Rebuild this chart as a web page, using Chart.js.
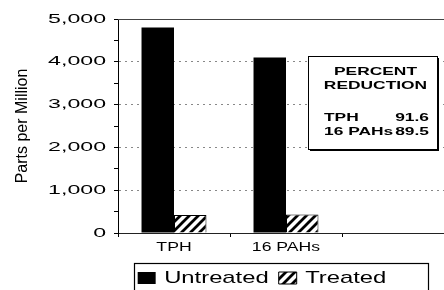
<!DOCTYPE html>
<html>
<head>
<meta charset="utf-8">
<script src="https://cdn.jsdelivr.net/npm/chart.js@4/dist/chart.umd.min.js"></script>
<style>
  html, body { margin: 0; padding: 0; background: #fff; overflow: hidden; }
  #wrap { width: 454px; height: 290px; }
</style>
</head>
<body>
<div id="wrap"><canvas id="c" width="454" height="290"></canvas></div>
<script>
// ---- data ----
const categories = ['TPH', '16 PAHs', ''];
const seriesNames = ['Untreated', 'Treated'];
const untreated = [4800, 4100, null];
const treated = [420, 430, null];
const yTickValues = [0, 1000, 2000, 3000, 4000, 5000];
const boxTitle = ['PERCENT', 'REDUCTION'];
const reductionLabels = ['TPH', '16 PAHs'];
const reductionValues = ['91.6', '89.5'];

// ---- canvas & horizontally extended type (the original lettering is very wide) ----
const canvas = document.getElementById('c');
const ctx = canvas.getContext('2d');
const stretchBySize = { '13': 1.78, '12': 1.47, '17': 1.4, '11': 1.58 };
function stretchFor(font) {
  const m = /(\d+(?:\.\d+)?)px/.exec(font || '');
  return m && stretchBySize[m[1]] ? stretchBySize[m[1]] : 1;
}
const origFill = CanvasRenderingContext2D.prototype.fillText;
const origMeasure = CanvasRenderingContext2D.prototype.measureText;
ctx.fillText = function (t, x, y, mw) {
  const sx = stretchFor(this.font);
  if (sx === 1) {
    return (mw === undefined) ? origFill.call(this, t, x, y) : origFill.call(this, t, x, y, mw);
  }
  this.save();
  this.translate(x, y);
  this.scale(sx, 1);
  origFill.call(this, t, 0, 0);
  this.restore();
};
ctx.measureText = function (t) {
  const m = origMeasure.call(this, t);
  const sx = stretchFor(this.font);
  if (sx === 1) return m;
  return {
    width: m.width * sx,
    actualBoundingBoxLeft: m.actualBoundingBoxLeft * sx,
    actualBoundingBoxRight: m.actualBoundingBoxRight * sx,
    actualBoundingBoxAscent: m.actualBoundingBoxAscent,
    actualBoundingBoxDescent: m.actualBoundingBoxDescent,
    fontBoundingBoxAscent: m.fontBoundingBoxAscent,
    fontBoundingBoxDescent: m.fontBoundingBoxDescent
  };
};

// ---- hatch pattern ----
function hatch() {
  const s = 9;
  const c = document.createElement('canvas');
  c.width = s; c.height = s;
  const g = c.getContext('2d');
  g.fillStyle = '#fff'; g.fillRect(0, 0, s, s);
  g.strokeStyle = '#000'; g.lineWidth = 2.8; g.lineCap = 'square';
  g.beginPath();
  g.moveTo(-2, s + 2); g.lineTo(s + 2, -2);
  g.moveTo(-2, 2); g.lineTo(2, -2);
  g.moveTo(s - 2, s + 2); g.lineTo(s + 2, s - 2);
  g.stroke();
  return ctx.createPattern(c, 'repeat');
}

Chart.defaults.font.family = "'Liberation Sans', Arial, sans-serif";
Chart.defaults.color = '#000';

const LEGEND_DX = 35, LEGEND_DY = 6.5;

const decor = {
  id: 'decor',
  afterLayout(chart) {
    const lg = chart.legend;
    if (lg) { lg.left += LEGEND_DX; lg.right += LEGEND_DX; lg.top += LEGEND_DY; lg.bottom += LEGEND_DY; }
  },
  afterDraw(chart) {
    const c = chart.ctx;
    const a = chart.chartArea;
    c.save();
    // top frame line
    c.strokeStyle = '#444'; c.lineWidth = 1;
    c.beginPath(); c.moveTo(a.left, a.top + 0.5); c.lineTo(a.right, a.top + 0.5); c.stroke();

    // legend frame
    const lg = chart.legend;
    const pad = lg.options.labels.padding;
    const firstX = (lg.left + pad + lg.right - lg.lineWidths[0]) / 2;
    const lx = firstX - 4, ly = lg.top + pad - 6.5;
    c.strokeStyle = '#000'; c.lineWidth = 1.2;
    c.strokeRect(Math.round(lx) + 0.5, Math.round(ly) + 0.5, 294, 40);

    // percent reduction box
    const bx = chart.scales.x.getPixelForValue(1) + 22;
    const br = a.right - 17;
    const by = a.top + 37, bb = a.top + 130;
    c.fillStyle = '#000';
    c.fillRect(bx + 2, by + 2, br - bx, bb - by);
    c.fillStyle = '#fff';
    c.fillRect(bx, by, br - bx, bb - by);
    c.strokeStyle = '#000'; c.lineWidth = 1;
    c.strokeRect(Math.round(bx) + 0.5, Math.round(by) + 0.5, Math.round(br - bx), Math.round(bb - by));

    c.font = "bold 11px 'Liberation Sans', Arial, sans-serif";
    c.fillStyle = '#000';
    c.textBaseline = 'middle';
    const cx = (bx + br) / 2 + 3;
    c.textAlign = 'center';
    c.fillText(boxTitle[0], cx, by + 16);
    c.fillText(boxTitle[1], cx, by + 30);
    reductionLabels.forEach((lab, i) => {
      const yy = by + 62 + i * 14;
      c.textAlign = 'left';
      c.fillText(lab, bx + 16, yy);
      c.textAlign = 'right';
      c.fillText(reductionValues[i], br - 8, yy);
    });
    c.restore();
  }
};

new Chart(ctx, {
  type: 'bar',
  data: {
    labels: categories,
    datasets: [
      { label: seriesNames[0], data: untreated, backgroundColor: '#000', borderColor: '#000', borderWidth: 0 },
      { label: seriesNames[1], data: treated, backgroundColor: hatch(), borderColor: '#000', borderWidth: 1 }
    ]
  },
  options: {
    responsive: false,
    animation: false,
    devicePixelRatio: 1,
    layout: { padding: { top: 19, left: 0, right: 0, bottom: 0 } },
    datasets: { bar: { barPercentage: 1, categoryPercentage: 0.58 } },
    plugins: {
      legend: {
        position: 'bottom',
        labels: { boxWidth: 18, boxHeight: 12, padding: 10, font: { size: 17 }, color: '#000' }
      },
      tooltip: { enabled: false }
    },
    scales: {
      x: {
        afterFit: s => { s.height = 20; },
        grid: { drawOnChartArea: false, offset: true, tickLength: 4, tickColor: '#000', color: '#000' },
        border: { color: '#222', width: 1 },
        ticks: { font: { size: 12 }, padding: 3, color: '#000' }
      },
      y: {
        min: 0, max: 5000,
        afterFit: s => { s.width = 118; },
        afterBuildTicks: s => {
          const out = [];
          for (let i = 0; i < yTickValues.length; i++) {
            out.push({ value: yTickValues[i] });
            if (i < yTickValues.length - 1) out.push({ value: (yTickValues[i] + yTickValues[i + 1]) / 2 });
          }
          s.ticks = out;
        },
        ticks: {
          font: { size: 13 }, padding: 8, color: '#000',
          callback: v => yTickValues.includes(v) ? v.toLocaleString('en-US') : ''
        },
        grid: {
          tickLength: 4, tickColor: '#000',
          color: c => (c.tick && c.tick.value > 0 && c.tick.value < 5000 && c.tick.value % 1000 === 0) ? '#888' : 'rgba(0,0,0,0)'
        },
        border: { color: '#000', width: 1, dash: [2, 4] },
        title: {
          display: true, text: 'Parts per Million', color: '#000',
          font: { size: 16 }, padding: { top: 13, bottom: 0 }
        }
      }
    }
  },
  plugins: [decor]
});
</script>
</body>
</html>
